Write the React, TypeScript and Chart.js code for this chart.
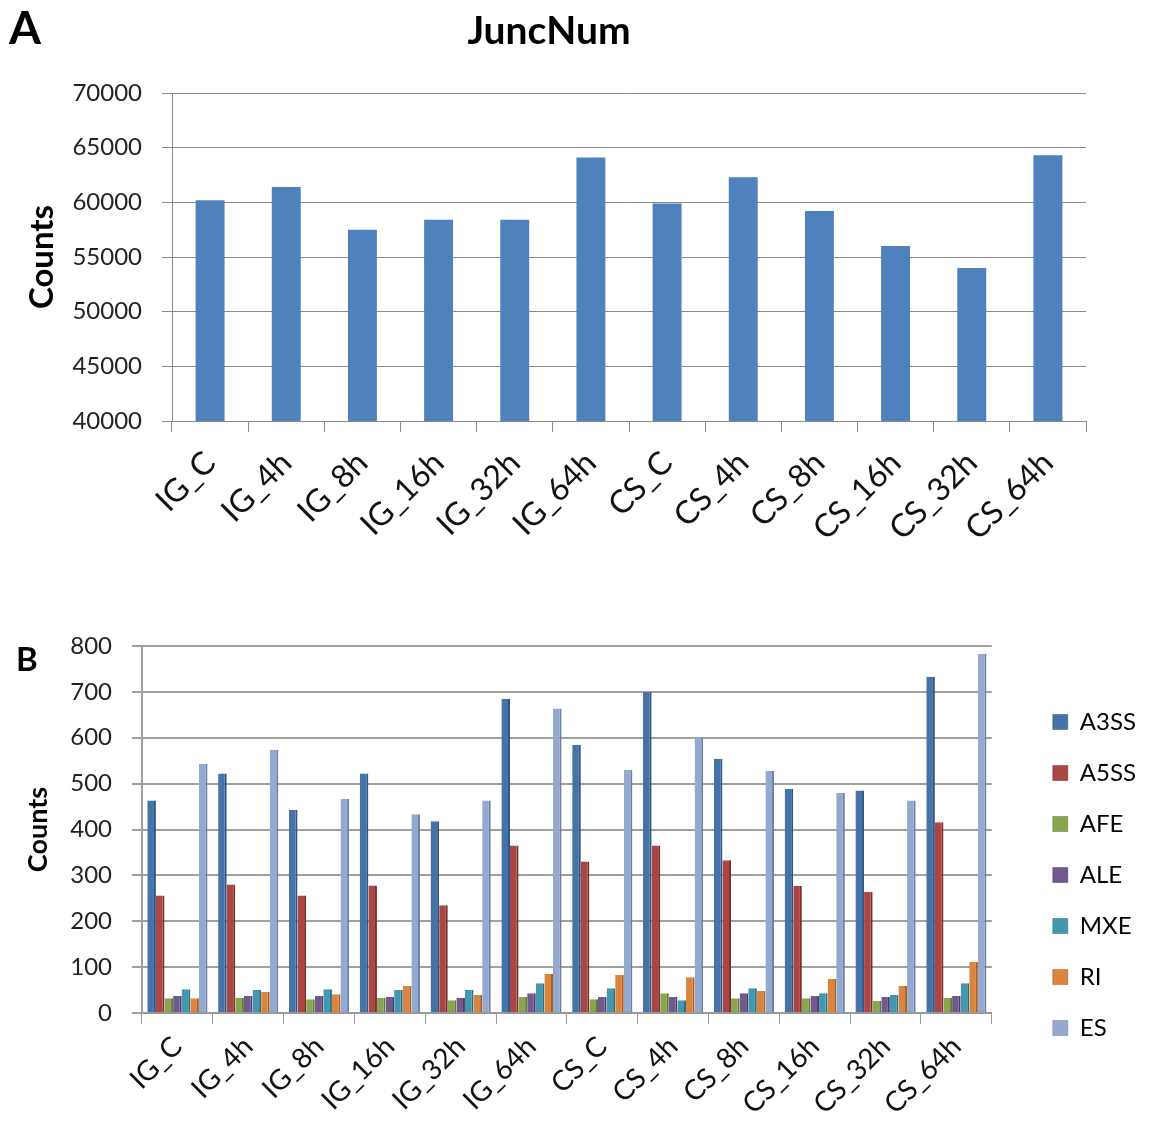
import React, { useEffect, useRef } from 'react';
import { Chart, registerables } from 'chart.js';

Chart.register(...registerables);

const FONT = 'Lato';

const categories = ['IG_C', 'IG_4h', 'IG_8h', 'IG_16h', 'IG_32h', 'IG_64h', 'CS_C', 'CS_4h', 'CS_8h', 'CS_16h', 'CS_32h', 'CS_64h'];

const juncNum = [60200, 61400, 57500, 58400, 58400, 64100, 59900, 62300, 59200, 56000, 54000, 64300];

const seriesNames = ['A3SS', 'A5SS', 'AFE', 'ALE', 'MXE', 'RI', 'ES'];
const a3ss = [463, 522, 443, 522, 418, 685, 585, 700, 554, 489, 485, 733];
const a5ss = [256, 280, 256, 278, 235, 365, 330, 365, 333, 277, 264, 416];
const afe = [32, 33, 30, 33, 28, 35, 30, 43, 32, 32, 26, 33];
const ale = [37, 37, 37, 35, 33, 43, 35, 35, 43, 37, 35, 37];
const mxe = [52, 50, 52, 50, 50, 65, 54, 28, 54, 43, 39, 65];
const ri = [32, 46, 41, 59, 39, 85, 83, 78, 48, 74, 59, 111];
const es = [543, 574, 467, 433, 463, 664, 530, 600, 528, 480, 463, 783];

const seriesColors = ['#4572A7', '#AA4643', '#89A54E', '#71588F', '#4198AF', '#DB843D', '#93A9CF'];
const seriesDark = ['#2f5583', '#7e2f2d', '#627a35', '#4f3d66', '#2c6f80', '#a85f25', '#6a80a8'];

const juncTicks = { min: 40000, max: 70000, step: 5000 };
const asTicks = { min: 0, max: 800, step: 100 };

const plain = (v: any) => String(v);

function JuncChart() {
  const ref = useRef<HTMLCanvasElement>(null);
  useEffect(() => {
    const chart = new Chart(ref.current!, {
      type: 'bar',
      data: {
        labels: categories,
        datasets: [{ label: 'JuncNum', data: juncNum, backgroundColor: '#4F81BD', barPercentage: 0.38, categoryPercentage: 1 }],
      },
      options: {
        responsive: false,
        animation: false,
        layout: { padding: { top: 93, right: 63, left: 0, bottom: 0 } },
        plugins: { legend: { display: false }, tooltip: { enabled: false }, title: { display: false } },
        scales: {
          x: {
            grid: { display: true, drawOnChartArea: false, drawTicks: true, tickLength: 11, color: '#8a8a8a', offset: true },
            border: { color: '#8a8a8a' },
            ticks: { maxRotation: 45, minRotation: 45, autoSkip: false, font: { family: FONT, size: 32 }, color: '#111', padding: 12 },
            afterFit: (s: any) => { s.height = 139; },
          },
          y: {
            min: juncTicks.min,
            max: juncTicks.max,
            ticks: { stepSize: juncTicks.step, font: { family: FONT, size: 24 }, color: '#222', padding: 20, callback: plain },
            grid: { color: '#8a8a8a', tickLength: 10 },
            border: { color: '#8a8a8a' },
            title: { display: true, text: 'Counts', font: { family: FONT, size: 33, weight: 'bold' }, color: '#000', padding: { top: 23, bottom: 0 } },
            afterFit: (s: any) => { s.width = 172; },
          },
        },
      },
    });
    return () => chart.destroy();
  }, []);
  return <canvas ref={ref} width={1149} height={560} style={{ display: 'block' }} />;
}

function EventsChart() {
  const ref = useRef<HTMLCanvasElement>(null);
  useEffect(() => {
    const seriesData = [a3ss, a5ss, afe, ale, mxe, ri, es];
    const chart = new Chart(ref.current!, {
      type: 'bar',
      data: {
        labels: categories,
        datasets: seriesNames.map((name, i) => ({
          label: name,
          data: seriesData[i],
          backgroundColor: seriesColors[i],
          borderColor: seriesDark[i],
          borderWidth: { top: 0, right: 2, bottom: 0, left: 0 },
          borderSkipped: false,
          barPercentage: 1,
          categoryPercentage: 0.85,
        })),
      },
      options: {
        responsive: false,
        animation: false,
        layout: { padding: { top: 46, right: 3, left: 0, bottom: 0 } },
        plugins: {
          tooltip: { enabled: false },
          legend: {
            position: 'right',
            align: 'start',
            title: { display: true, text: ' ', font: { family: FONT, size: 10 }, padding: { top: 12, bottom: 13 } },
            labels: { boxWidth: 15, boxHeight: 15, padding: 27, font: { family: FONT, size: 24 }, color: '#000' },
          },
        },
        scales: {
          x: {
            grid: { display: true, drawOnChartArea: false, drawTicks: true, tickLength: 11, color: '#999', offset: true },
            border: { color: '#999', width: 2 },
            ticks: { maxRotation: 45, minRotation: 45, autoSkip: false, font: { family: FONT, size: 28 }, color: '#111', padding: 6 },
            afterFit: (s: any) => { s.height = 109; },
          },
          y: {
            min: asTicks.min,
            max: asTicks.max,
            ticks: { stepSize: asTicks.step, font: { family: FONT, size: 24 }, color: '#222', padding: 20, callback: plain },
            grid: { color: '#a0a0a0', lineWidth: 2, tickLength: 10 },
            border: { color: '#a0a0a0', width: 2 },
            title: { display: true, text: 'Counts', font: { family: FONT, size: 27, weight: 'bold' }, color: '#000', padding: { top: 22, bottom: 0 } },
            afterFit: (s: any) => { s.width = 142; },
          },
          yGap: {
            position: 'right',
            display: true,
            grid: { display: false },
            border: { display: false },
            ticks: { display: false },
            afterFit: (s: any) => { s.width = 34; },
          },
        },
      },
    });
    return () => chart.destroy();
  }, []);
  return <canvas ref={ref} width={1149} height={522} style={{ display: 'block' }} />;
}

export default function App() {
  const textBase: React.CSSProperties = { position: 'absolute', fontFamily: FONT, fontWeight: 'bold', lineHeight: 1, color: '#000', margin: 0 };
  return (
    <div style={{ position: 'absolute', left: 0, top: 0, width: 1149, height: 1122, background: '#fff' }}>
      <div style={{ position: 'absolute', left: 0, top: 0 }}>
        <JuncChart />
      </div>
      <div style={{ position: 'absolute', left: 0, top: 600 }}>
        <EventsChart />
      </div>
      <div style={{ ...textBase, left: 9, top: 4, fontSize: 46 }}>A</div>
      <div style={{ ...textBase, left: 0, width: 1098, textAlign: 'center', top: 10, fontSize: 39 }}>JuncNum</div>
      <div style={{ ...textBase, left: 16, top: 642, fontSize: 33 }}>B</div>
    </div>
  );
}
